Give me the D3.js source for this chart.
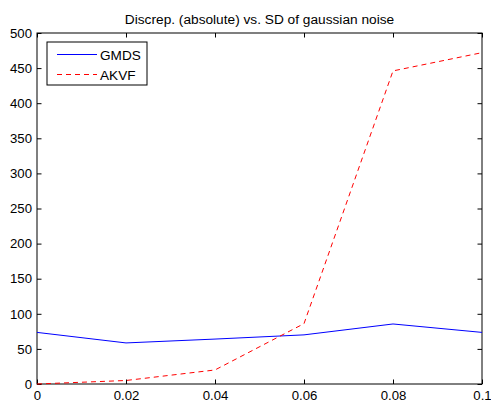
<!DOCTYPE html>
<html>
<head>
<meta charset="utf-8">
<script src="https://cdn.jsdelivr.net/npm/d3@7"></script>
<style>
  body { margin: 0; background: #fff; }
  text { font-family: "Liberation Sans", Arial, sans-serif; fill: #000; }
</style>
</head>
<body>
<svg id="chart" width="491" height="404"></svg>
<script>
// noise standard deviation (x axis)
var noiseSD = [0, 0.02, 0.04, 0.06, 0.08, 0.1];
// absolute discrepancy per method
var gmds = [73.5, 58.5, 64, 70, 85.5, 73.5];
var akvf = [0, 5, 20, 86, 446, 472];
var seriesNames = ["GMDS", "AKVF"];
var xTicks = [0, 0.02, 0.04, 0.06, 0.08, 0.1];
var yTicks = [0, 50, 100, 150, 200, 250, 300, 350, 400, 450, 500];
var titleText = "Discrep. (absolute) vs. SD of gaussian noise";

var svg = d3.select("#chart");
var margin = { top: 33, right: 9, bottom: 20, left: 37 };
var width = 491 - margin.left - margin.right,
    height = 404 - margin.top - margin.bottom;
var fontSize = 13.2;

var x = d3.scaleLinear().domain([0, 0.1]).range([0, width]);
var y = d3.scaleLinear().domain([0, 500]).range([height, 0]);

var g = svg.append("g").attr("transform", "translate(" + margin.left + "," + margin.top + ")");

// ticks point inward on all four sides, like matlab
var tickLen = 4.5;
var fmtX = function(d) { return d === 0 ? "0" : String(+d.toFixed(2)); };

var axBottom = g.append("g").attr("transform", "translate(0," + height + ")")
  .call(d3.axisBottom(x).tickValues(xTicks).tickSize(-tickLen).tickPadding(7).tickFormat(fmtX));
var axTop = g.append("g")
  .call(d3.axisTop(x).tickValues(xTicks).tickSize(-tickLen).tickFormat(""));
var axLeft = g.append("g")
  .call(d3.axisLeft(y).tickValues(yTicks).tickSize(-tickLen).tickPadding(5));
var axRight = g.append("g").attr("transform", "translate(" + width + ",0)")
  .call(d3.axisRight(y).tickValues(yTicks).tickSize(-tickLen).tickFormat(""));

[axBottom, axTop, axLeft, axRight].forEach(function(a) {
  a.select(".domain").remove();
  a.selectAll(".tick line").attr("stroke", "#000").attr("stroke-width", 1);
  a.selectAll(".tick text").attr("font-size", fontSize).attr("fill", "#000")
    .style("font-family", "'Liberation Sans', Arial, sans-serif");
});

g.append("rect").attr("x", 0).attr("y", 0).attr("width", width).attr("height", height)
  .attr("fill", "none").attr("stroke", "#000").attr("stroke-width", 1);

var line = d3.line()
  .x(function(d, i) { return x(noiseSD[i]); })
  .y(function(d) { return y(d); });

g.append("path").datum(gmds).attr("d", line)
  .attr("fill", "none").attr("stroke", "#0000ff").attr("stroke-width", 1);
g.append("path").datum(akvf).attr("d", line)
  .attr("fill", "none").attr("stroke", "#ff0000").attr("stroke-width", 1)
  .attr("stroke-dasharray", "5,4");

svg.append("text").attr("x", margin.left + width / 2).attr("y", 24)
  .attr("text-anchor", "middle").attr("font-size", 13.7).text(titleText);

// legend box
var leg = g.append("g").attr("transform", "translate(10,9)");
leg.append("rect").attr("width", 100).attr("height", 43)
  .attr("fill", "#fff").attr("stroke", "#000").attr("stroke-width", 1);
var legStyles = [
  { color: "#0000ff", dash: null },
  { color: "#ff0000", dash: "5,4" }
];
seriesNames.forEach(function(name, i) {
  var ly = 12.5 + i * 20;
  leg.append("line").attr("x1", 10).attr("x2", 50).attr("y1", ly).attr("y2", ly)
    .attr("stroke", legStyles[i].color).attr("stroke-width", 1)
    .attr("stroke-dasharray", legStyles[i].dash);
  leg.append("text").attr("x", 53).attr("y", ly + 5).attr("font-size", 13.6).text(name);
});
</script>
</body>
</html>
